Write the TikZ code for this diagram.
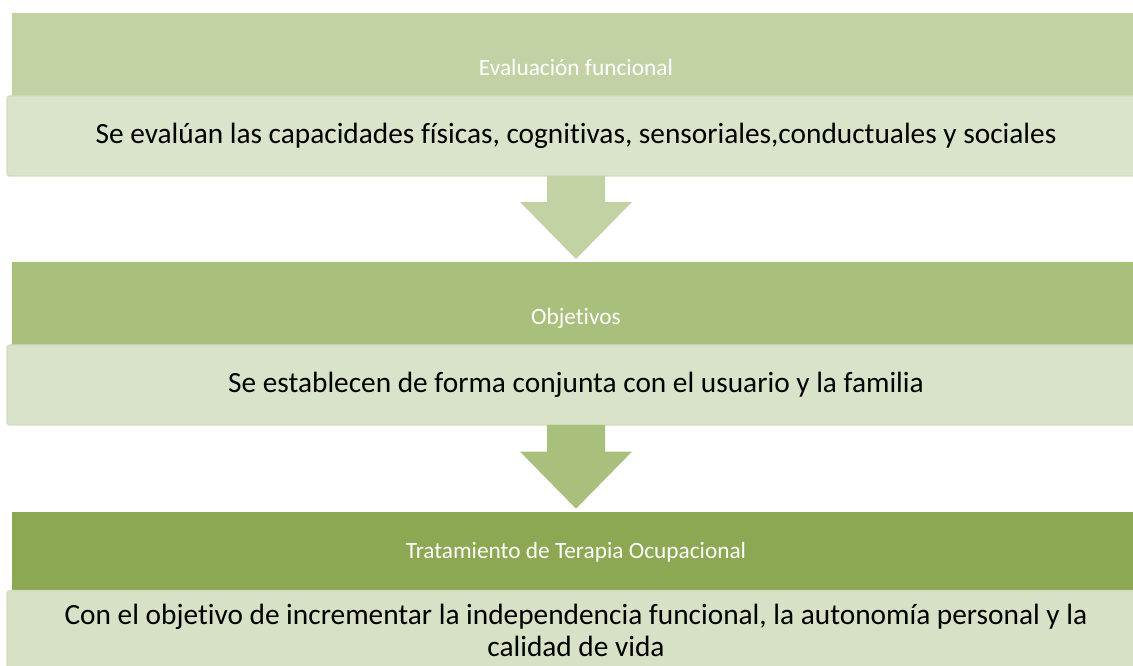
\documentclass[tikz,border=0pt]{standalone}
\usepackage{fontspec}
\setmainfont{Carlito}[Ligatures=NoCommon]
\usetikzlibrary{positioning,calc}
\definecolor{headA}{HTML}{C3D2A5}
\definecolor{headB}{HTML}{A8C07C}
\definecolor{headC}{HTML}{8CA852}
\definecolor{bodyA}{HTML}{DAE4CB}
\definecolor{bodyB}{HTML}{D9E3C9}
\definecolor{bodyC}{HTML}{D6E1C5}
\definecolor{bodyedge}{HTML}{D1DCBE}
\begin{document}
\begin{tikzpicture}
[x=0.75pt, y=-0.75pt,
 headdecorate/.style={shape=rectangle, inner sep=0pt, outer sep=0pt,
   minimum width=846pt, minimum height=63pt, text height=47pt,
   text depth=16pt, text=white, font=\fontsize{17.5}{20}\selectfont},
 bodydecorate/.style={shape=rectangle, rounded corners=2pt, draw=bodyedge,
   line width=1pt, inner sep=0pt, outer sep=0pt, minimum width=853.5pt,
   minimum height=60pt, align=center, font=\fontsize{22}{24}\selectfont}]
\useasboundingbox (0,0) rectangle (1133,666);
\clip (0,0) rectangle (1133,666);
%% bands and boxes
\node (evalHead) at (576,55) [headdecorate, fill=headA] {Evaluación funcional};
\node (evalBody) [below=-0.75pt of evalHead, bodydecorate, fill=bodyA]
  {Se evalúan las capacidades físicas, cognitivas, sensoriales,conductuales y sociales};
\node (objHead) [below=64.5pt of evalBody, headdecorate, fill=headB] {Objetivos};
\node (objBody) [below=-0.75pt of objHead, bodydecorate, fill=bodyB]
  {Se establecen de forma conjunta con el usuario y la familia};
\node (tratHead) [below=65pt of objBody, headdecorate, fill=headC,
  minimum height=59.25pt, text height=35.25pt, text depth=24pt]
  {Tratamiento de Terapia Ocupacional};
\node (tratBody) [below=0pt of tratHead, bodydecorate, fill=bodyC]
  {Con el objetivo de incrementar la independencia funcional, la autonomía personal y la\\
   calidad de vida};
%% block arrows
\foreach \from/\to/\col in {evalBody/objHead/headA, objBody/tratHead/headB}
{
  \path[fill=\col] ($(\from.south)+(-29,0)$) -- ($(\to.north)+(-29,-60)$)
    -- ($(\to.north)+(-56,-60)$) -- ($(\to.north)+(0,-3)$)
    -- ($(\to.north)+(56,-60)$) -- ($(\to.north)+(29,-60)$)
    -- ($(\from.south)+(29,0)$) -- cycle;
}
\end{tikzpicture}
\end{document}
